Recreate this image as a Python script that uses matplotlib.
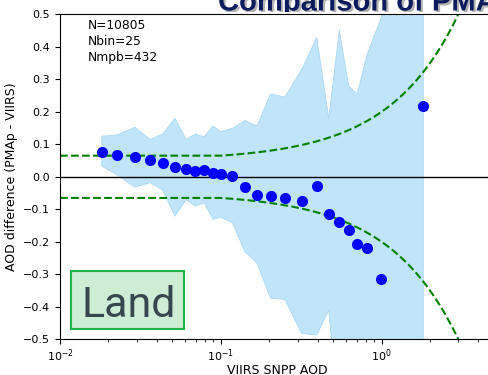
import numpy as np
import matplotlib
matplotlib.use("Agg")
import matplotlib.pyplot as plt
import matplotlib.patheffects as pe
from matplotlib.patches import Rectangle

# binned VIIRS AOD (bin centres) and mean PMAp - VIIRS difference
bin_aod = [0.0182, 0.0227, 0.0292, 0.0364, 0.0436, 0.0518, 0.0609, 0.0696,
           0.0788, 0.0896, 0.100, 0.118, 0.141, 0.168, 0.204, 0.250, 0.318,
           0.395, 0.469, 0.546, 0.624, 0.706, 0.811, 0.995, 1.816]
mean_diff = [0.076, 0.066, 0.060, 0.051, 0.044, 0.029, 0.023, 0.019, 0.022,
             0.012, 0.008, 0.004, -0.030, -0.056, -0.059, -0.065, -0.075,
             -0.029, -0.113, -0.140, -0.165, -0.207, -0.218, -0.315, 0.219]
# spread envelope per bin
upper = [0.125, 0.129, 0.152, 0.115, 0.132, 0.180, 0.115, 0.132, 0.123,
         0.156, 0.139, 0.149, 0.173, 0.156, 0.255, 0.245, 0.329, 0.429,
         0.180, 0.450, 0.279, 0.255, 0.375, 0.490, 1.10]
lower = [0.033, 0.006, -0.032, -0.018, -0.041, -0.121, -0.071, -0.090,
         -0.080, -0.131, -0.125, -0.141, -0.230, -0.266, -0.374, -0.377,
         -0.482, -0.487, -0.410, -0.75, -0.85, -0.90, -1.00, -1.20, -1.50]

# expected error envelope: max(EE_MIN, EE_ABS + EE_REL * AOD)
EE_MIN = 0.065
EE_ABS = 0.05
EE_REL = 0.15

info_text = "N=10805\nNbin=25\nNmpb=432"

fig = plt.figure(figsize=(4.89, 3.75), dpi=100)
ax = fig.add_axes([60 / 489, 35.7 / 375, 434 / 489, 325 / 375])
ax.set_zorder(5)

ax.fill_between(bin_aod, lower, upper, facecolor="#c0e4f9",
                edgecolor="#aad8f4", linewidth=0.6, zorder=1)

x_ee = np.logspace(-2, np.log10(5), 300)
ee = np.maximum(EE_MIN, EE_ABS + EE_REL * x_ee)
ax.plot(x_ee, ee, "--", color="green", lw=1.5, zorder=2)
ax.plot(x_ee, -ee, "--", color="green", lw=1.5, zorder=2)
ax.axhline(0, color="black", lw=1.0, zorder=3)
ax.plot(bin_aod, mean_diff, "o", color="blue", ms=7, zorder=4)

ax.set_xscale("log")
ax.set_xlim(0.01, 5)
ax.set_ylim(-0.5, 0.5)
ax.set_yticks(np.arange(-0.5, 0.51, 0.1))
ax.tick_params(labelsize=8)
ax.tick_params(axis="x", which="major", pad=2)
ax.set_xlabel("VIIRS SNPP AOD", fontsize=9, labelpad=0)
ax.set_ylabel("AOD difference (PMAp - VIIRS)", fontsize=9)

ax.text(0.0645, 0.985, info_text, transform=ax.transAxes, fontsize=8.8,
        va="top", ha="left", linespacing=1.3)

# "Land" label box
ax.add_patch(Rectangle((0.0253, 0.0317), 0.2604, 0.1783, transform=ax.transAxes,
                       facecolor="#cdeed4", edgecolor="#1fb34c", lw=1.5, zorder=6))
ax.text(0.158, 0.068, "Land", transform=ax.transAxes, fontsize=31,
        family="Roboto", color="#37474f", ha="center", va="baseline", zorder=7)

# slide title, partly hidden behind the plot
fig.text(218 / 489, 1 - 10.5 / 375, "Comparison of PMAp", fontsize=21,
         weight="bold", family="Liberation Sans", color="#0b1b5e",
         ha="left", va="baseline",
         path_effects=[pe.withSimplePatchShadow(offset=(1.5, -1.5), shadow_rgbFace="gray", alpha=0.6)])
fig.add_artist(Rectangle((0, 0), 1, 1 - 11.5 / 375, transform=fig.transFigure,
                         facecolor="white", edgecolor="none", zorder=4))

fig.savefig("out.png", dpi=100)
